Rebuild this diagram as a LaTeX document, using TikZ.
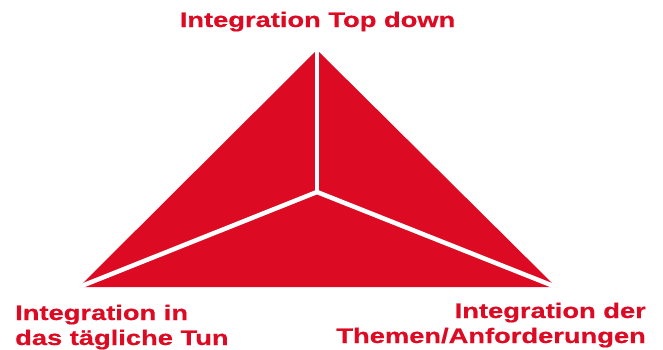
\documentclass[tikz,border=0pt]{standalone}
\usepackage{fontspec}
\newfontfamily\labfont[FakeStretch=1.3,BoldFeatures={FakeBold=0.6}]{Liberation Sans}
\definecolor{tred}{RGB}{220,10,35}
\begin{document}
\begin{tikzpicture}[x=1pt,y=-1pt,
  lab/.style={text=tred,font=\labfont\fontsize{21}{25}\selectfont\bfseries,inner sep=0pt},
  sep/.style={draw=white,line width=4.5pt}]
\useasboundingbox (0,0) rectangle (663,349);
\coordinate (A) at (317,50);
\coordinate (L) at (79,287);
\coordinate (R) at (556,287);
\coordinate (C) at (317,192);
\fill[tred] (A) -- (R) -- (L) -- cycle;
\draw[sep] (A) -- (C);
\draw[sep] (C) -- (L);
\draw[sep] (C) -- (R);
\node[lab,anchor=base] (top) at (317.5,27) {Integration Top down};
\node[lab,anchor=base west] (l1) at (15,320) {Integration in};
\node[lab,anchor=base west] (l2) at (15,345) {das tägliche Tun};
\node[lab,anchor=base east] (r1) at (646,318) {Integration der};
\node[lab,anchor=base east] (r2) at (646,343) {Themen/Anforderungen};
\end{tikzpicture}
\end{document}
